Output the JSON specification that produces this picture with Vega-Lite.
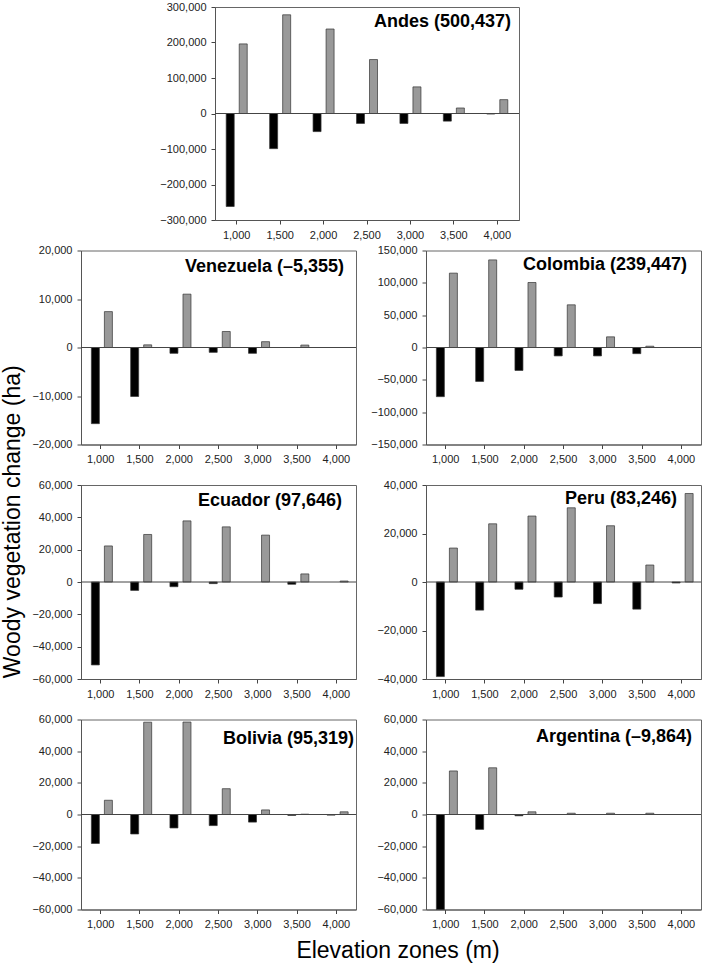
{
  "$schema": "https://vega.github.io/schema/vega-lite/v6.json",
  "padding": {"left": 2, "top": 0, "right": 0, "bottom": 0},
  "autosize": {"type": "pad"},
  "title": {"text": "Woody vegetation change (ha)", "orient": "left", "anchor": "middle", "offset": -12, "dx": -40, "baseline": "alphabetic", "fontSize": 23, "fontWeight": "normal", "color": "#000"},
  "config": {
    "font": "Liberation Sans",
    "view": {"stroke": "#666", "strokeWidth": 1},
    "axis": {"labelFontSize": 11, "labelColor": "#222", "tickColor": "#444", "domainColor": "#555", "tickSize": 4, "grid": false, "labelPadding": 5, "labelOverlap": false},
    "axisX": {"labelAngle": 0, "labelPadding": 5},
    "title": {"font": "Liberation Sans"}
  },
  "datasets": {
    "woody": [
      {"region": "Andes", "zone": "1,000", "type": "loss", "value": -262000},
      {"region": "Andes", "zone": "1,000", "type": "gain", "value": 196000},
      {"region": "Andes", "zone": "1,500", "type": "loss", "value": -99000},
      {"region": "Andes", "zone": "1,500", "type": "gain", "value": 278000},
      {"region": "Andes", "zone": "2,000", "type": "loss", "value": -51000},
      {"region": "Andes", "zone": "2,000", "type": "gain", "value": 238000},
      {"region": "Andes", "zone": "2,500", "type": "loss", "value": -28000},
      {"region": "Andes", "zone": "2,500", "type": "gain", "value": 152000},
      {"region": "Andes", "zone": "3,000", "type": "loss", "value": -28000},
      {"region": "Andes", "zone": "3,000", "type": "gain", "value": 75000},
      {"region": "Andes", "zone": "3,500", "type": "loss", "value": -21500},
      {"region": "Andes", "zone": "3,500", "type": "gain", "value": 15500},
      {"region": "Andes", "zone": "4,000", "type": "loss", "value": -1500},
      {"region": "Andes", "zone": "4,000", "type": "gain", "value": 39000},
      {"region": "Venezuela", "zone": "1,000", "type": "loss", "value": -15700},
      {"region": "Venezuela", "zone": "1,000", "type": "gain", "value": 7400},
      {"region": "Venezuela", "zone": "1,500", "type": "loss", "value": -10100},
      {"region": "Venezuela", "zone": "1,500", "type": "gain", "value": 550},
      {"region": "Venezuela", "zone": "2,000", "type": "loss", "value": -1200},
      {"region": "Venezuela", "zone": "2,000", "type": "gain", "value": 11000},
      {"region": "Venezuela", "zone": "2,500", "type": "loss", "value": -1000},
      {"region": "Venezuela", "zone": "2,500", "type": "gain", "value": 3300},
      {"region": "Venezuela", "zone": "3,000", "type": "loss", "value": -1200},
      {"region": "Venezuela", "zone": "3,000", "type": "gain", "value": 1200},
      {"region": "Venezuela", "zone": "3,500", "type": "gain", "value": 500},
      {"region": "Colombia", "zone": "1,000", "type": "loss", "value": -76000},
      {"region": "Colombia", "zone": "1,000", "type": "gain", "value": 115000},
      {"region": "Colombia", "zone": "1,500", "type": "loss", "value": -52500},
      {"region": "Colombia", "zone": "1,500", "type": "gain", "value": 135500},
      {"region": "Colombia", "zone": "2,000", "type": "loss", "value": -35500},
      {"region": "Colombia", "zone": "2,000", "type": "gain", "value": 100500},
      {"region": "Colombia", "zone": "2,500", "type": "loss", "value": -13000},
      {"region": "Colombia", "zone": "2,500", "type": "gain", "value": 66000},
      {"region": "Colombia", "zone": "3,000", "type": "loss", "value": -13000},
      {"region": "Colombia", "zone": "3,000", "type": "gain", "value": 16500},
      {"region": "Colombia", "zone": "3,500", "type": "loss", "value": -9500},
      {"region": "Colombia", "zone": "3,500", "type": "gain", "value": 2000},
      {"region": "Ecuador", "zone": "1,000", "type": "loss", "value": -51300},
      {"region": "Ecuador", "zone": "1,000", "type": "gain", "value": 22300},
      {"region": "Ecuador", "zone": "1,500", "type": "loss", "value": -5200},
      {"region": "Ecuador", "zone": "1,500", "type": "gain", "value": 29400},
      {"region": "Ecuador", "zone": "2,000", "type": "loss", "value": -2900},
      {"region": "Ecuador", "zone": "2,000", "type": "gain", "value": 37800},
      {"region": "Ecuador", "zone": "2,500", "type": "loss", "value": -1000},
      {"region": "Ecuador", "zone": "2,500", "type": "gain", "value": 34100},
      {"region": "Ecuador", "zone": "3,000", "type": "gain", "value": 29000},
      {"region": "Ecuador", "zone": "3,500", "type": "loss", "value": -1400},
      {"region": "Ecuador", "zone": "3,500", "type": "gain", "value": 5000},
      {"region": "Ecuador", "zone": "4,000", "type": "gain", "value": 600},
      {"region": "Peru", "zone": "1,000", "type": "loss", "value": -39000},
      {"region": "Peru", "zone": "1,000", "type": "gain", "value": 14000},
      {"region": "Peru", "zone": "1,500", "type": "loss", "value": -11600},
      {"region": "Peru", "zone": "1,500", "type": "gain", "value": 24000},
      {"region": "Peru", "zone": "2,000", "type": "loss", "value": -3000},
      {"region": "Peru", "zone": "2,000", "type": "gain", "value": 27200},
      {"region": "Peru", "zone": "2,500", "type": "loss", "value": -6200},
      {"region": "Peru", "zone": "2,500", "type": "gain", "value": 30600},
      {"region": "Peru", "zone": "3,000", "type": "loss", "value": -8900},
      {"region": "Peru", "zone": "3,000", "type": "gain", "value": 23200},
      {"region": "Peru", "zone": "3,500", "type": "loss", "value": -11200},
      {"region": "Peru", "zone": "3,500", "type": "gain", "value": 7000},
      {"region": "Peru", "zone": "4,000", "type": "loss", "value": -400},
      {"region": "Peru", "zone": "4,000", "type": "gain", "value": 36500},
      {"region": "Bolivia", "zone": "1,000", "type": "loss", "value": -18300},
      {"region": "Bolivia", "zone": "1,000", "type": "gain", "value": 9000},
      {"region": "Bolivia", "zone": "1,500", "type": "loss", "value": -12300},
      {"region": "Bolivia", "zone": "1,500", "type": "gain", "value": 58300},
      {"region": "Bolivia", "zone": "2,000", "type": "loss", "value": -8500},
      {"region": "Bolivia", "zone": "2,000", "type": "gain", "value": 58400},
      {"region": "Bolivia", "zone": "2,500", "type": "loss", "value": -7000},
      {"region": "Bolivia", "zone": "2,500", "type": "gain", "value": 16300},
      {"region": "Bolivia", "zone": "3,000", "type": "loss", "value": -4800},
      {"region": "Bolivia", "zone": "3,000", "type": "gain", "value": 2900},
      {"region": "Bolivia", "zone": "3,500", "type": "loss", "value": -600},
      {"region": "Bolivia", "zone": "3,500", "type": "gain", "value": 200},
      {"region": "Bolivia", "zone": "4,000", "type": "loss", "value": -400},
      {"region": "Bolivia", "zone": "4,000", "type": "gain", "value": 1700},
      {"region": "Argentina", "zone": "1,000", "type": "loss", "value": -60000},
      {"region": "Argentina", "zone": "1,000", "type": "gain", "value": 27500},
      {"region": "Argentina", "zone": "1,500", "type": "loss", "value": -9400},
      {"region": "Argentina", "zone": "1,500", "type": "gain", "value": 29500},
      {"region": "Argentina", "zone": "2,000", "type": "loss", "value": -800},
      {"region": "Argentina", "zone": "2,000", "type": "gain", "value": 1700},
      {"region": "Argentina", "zone": "2,500", "type": "gain", "value": 800},
      {"region": "Argentina", "zone": "3,000", "type": "gain", "value": 800},
      {"region": "Argentina", "zone": "3,500", "type": "gain", "value": 800}
    ]
  },
  "spacing": 2.5,
  "vconcat": [
    {
      "spacing": 0,
      "bounds": "flush",
      "hconcat": [
        {"width": 134, "height": 213, "view": {"stroke": null}, "data": {"values": []}, "mark": {"type": "point", "opacity": 0}, "encoding": {}},
        {
          "width": 304, "height": 213,
          "title": {"text": "Andes (500,437)", "anchor": "end", "frame": "group", "offset": -44, "dx": -8, "baseline": "alphabetic", "fontSize": 18, "fontWeight": "bold", "color": "#000"},
          "layer": [
            {
              "data": {"name": "woody"},
              "transform": [{"filter": "datum.region === 'Andes'"}],
              "mark": {"type": "bar", "width": 8, "stroke": "#333", "strokeWidth": 0.7},
              "encoding": {
                "x": {"field": "zone", "type": "ordinal", "scale": {"domain": ["1,000", "1,500", "2,000", "2,500", "3,000", "3,500", "4,000"], "paddingInner": 0.4, "paddingOuter": 0.2}, "axis": {"title": null, "labelOverlap": false}},
                "xOffset": {"field": "type", "scale": {"domain": ["loss", "gain"], "paddingInner": 0, "paddingOuter": 0}},
                "y": {"field": "value", "type": "quantitative", "scale": {"domain": [-300000, 300000], "nice": false, "zero": false}, "axis": {"values": [-300000, -200000, -100000, 0, 100000, 200000, 300000], "tickCount": 20, "format": ",.0f", "title": null, "labelOverlap": false}},
                "color": {"field": "type", "scale": {"domain": ["loss", "gain"], "range": ["#000000", "#999999"]}, "legend": null}
              }
            },
            {"data": {"values": [{"zero": 0}]}, "mark": {"type": "rule", "color": "#444", "strokeWidth": 1}, "encoding": {"y": {"field": "zero", "type": "quantitative"}}}
          ]
        }
      ]
    },
    {
      "spacing": 12.5,
      "vconcat": [
        {
          "spacing": 70,
          "bounds": "flush",
          "hconcat": [
            {
              "width": 275, "height": 194,
              "title": {"text": "Venezuela (–5,355)", "anchor": "end", "frame": "group", "offset": -45, "dx": -12, "baseline": "alphabetic", "fontSize": 18, "fontWeight": "bold", "color": "#000"},
              "layer": [
                {
                  "data": {"name": "woody"},
                  "transform": [{"filter": "datum.region === 'Venezuela'"}],
                  "mark": {"type": "bar", "width": 8, "stroke": "#333", "strokeWidth": 0.7},
                  "encoding": {
                    "x": {"field": "zone", "type": "ordinal", "scale": {"domain": ["1,000", "1,500", "2,000", "2,500", "3,000", "3,500", "4,000"], "paddingInner": 0.4, "paddingOuter": 0.2}, "axis": {"title": null, "labelOverlap": false}},
                    "xOffset": {"field": "type", "scale": {"domain": ["loss", "gain"], "paddingInner": 0, "paddingOuter": 0}},
                    "y": {"field": "value", "type": "quantitative", "scale": {"domain": [-20000, 20000], "nice": false, "zero": false}, "axis": {"values": [-20000, -10000, 0, 10000, 20000], "tickCount": 20, "format": ",.0f", "title": null, "labelOverlap": false}},
                    "color": {"field": "type", "scale": {"domain": ["loss", "gain"], "range": ["#000000", "#999999"]}, "legend": null}
                  }
                },
                {"data": {"values": [{"zero": 0}]}, "mark": {"type": "rule", "color": "#444", "strokeWidth": 1}, "encoding": {"y": {"field": "zero", "type": "quantitative"}}}
              ]
            },
            {
              "width": 275, "height": 194,
              "title": {"text": "Colombia (239,447)", "anchor": "end", "frame": "group", "offset": -43, "dx": -14, "baseline": "alphabetic", "fontSize": 18, "fontWeight": "bold", "color": "#000"},
              "layer": [
                {
                  "data": {"name": "woody"},
                  "transform": [{"filter": "datum.region === 'Colombia'"}],
                  "mark": {"type": "bar", "width": 8, "stroke": "#333", "strokeWidth": 0.7},
                  "encoding": {
                    "x": {"field": "zone", "type": "ordinal", "scale": {"domain": ["1,000", "1,500", "2,000", "2,500", "3,000", "3,500", "4,000"], "paddingInner": 0.4, "paddingOuter": 0.2}, "axis": {"title": null, "labelOverlap": false}},
                    "xOffset": {"field": "type", "scale": {"domain": ["loss", "gain"], "paddingInner": 0, "paddingOuter": 0}},
                    "y": {"field": "value", "type": "quantitative", "scale": {"domain": [-150000, 150000], "nice": false, "zero": false}, "axis": {"values": [-150000, -100000, -50000, 0, 50000, 100000, 150000], "tickCount": 20, "format": ",.0f", "title": null, "labelOverlap": false}},
                    "color": {"field": "type", "scale": {"domain": ["loss", "gain"], "range": ["#000000", "#999999"]}, "legend": null}
                  }
                },
                {"data": {"values": [{"zero": 0}]}, "mark": {"type": "rule", "color": "#444", "strokeWidth": 1}, "encoding": {"y": {"field": "zero", "type": "quantitative"}}}
              ]
            }
          ]
        },
        {
          "spacing": 70,
          "bounds": "flush",
          "hconcat": [
            {
              "width": 275, "height": 194,
              "title": {"text": "Ecuador (97,646)", "anchor": "end", "frame": "group", "offset": -45, "dx": -14, "baseline": "alphabetic", "fontSize": 18, "fontWeight": "bold", "color": "#000"},
              "layer": [
                {
                  "data": {"name": "woody"},
                  "transform": [{"filter": "datum.region === 'Ecuador'"}],
                  "mark": {"type": "bar", "width": 8, "stroke": "#333", "strokeWidth": 0.7},
                  "encoding": {
                    "x": {"field": "zone", "type": "ordinal", "scale": {"domain": ["1,000", "1,500", "2,000", "2,500", "3,000", "3,500", "4,000"], "paddingInner": 0.4, "paddingOuter": 0.2}, "axis": {"title": null, "labelOverlap": false}},
                    "xOffset": {"field": "type", "scale": {"domain": ["loss", "gain"], "paddingInner": 0, "paddingOuter": 0}},
                    "y": {"field": "value", "type": "quantitative", "scale": {"domain": [-60000, 60000], "nice": false, "zero": false}, "axis": {"values": [-60000, -40000, -20000, 0, 20000, 40000, 60000], "tickCount": 20, "format": ",.0f", "title": null, "labelOverlap": false}},
                    "color": {"field": "type", "scale": {"domain": ["loss", "gain"], "range": ["#000000", "#999999"]}, "legend": null}
                  }
                },
                {"data": {"values": [{"zero": 0}]}, "mark": {"type": "rule", "color": "#444", "strokeWidth": 1}, "encoding": {"y": {"field": "zero", "type": "quantitative"}}}
              ]
            },
            {
              "width": 275, "height": 194,
              "title": {"text": "Peru (83,246)", "anchor": "end", "frame": "group", "offset": -43, "dx": -24, "baseline": "alphabetic", "fontSize": 18, "fontWeight": "bold", "color": "#000"},
              "layer": [
                {
                  "data": {"name": "woody"},
                  "transform": [{"filter": "datum.region === 'Peru'"}],
                  "mark": {"type": "bar", "width": 8, "stroke": "#333", "strokeWidth": 0.7},
                  "encoding": {
                    "x": {"field": "zone", "type": "ordinal", "scale": {"domain": ["1,000", "1,500", "2,000", "2,500", "3,000", "3,500", "4,000"], "paddingInner": 0.4, "paddingOuter": 0.2}, "axis": {"title": null, "labelOverlap": false}},
                    "xOffset": {"field": "type", "scale": {"domain": ["loss", "gain"], "paddingInner": 0, "paddingOuter": 0}},
                    "y": {"field": "value", "type": "quantitative", "scale": {"domain": [-40000, 40000], "nice": false, "zero": false}, "axis": {"values": [-40000, -20000, 0, 20000, 40000], "tickCount": 20, "format": ",.0f", "title": null, "labelOverlap": false}},
                    "color": {"field": "type", "scale": {"domain": ["loss", "gain"], "range": ["#000000", "#999999"]}, "legend": null}
                  }
                },
                {"data": {"values": [{"zero": 0}]}, "mark": {"type": "rule", "color": "#444", "strokeWidth": 1}, "encoding": {"y": {"field": "zero", "type": "quantitative"}}}
              ]
            }
          ]
        },
        {
          "spacing": 70,
          "bounds": "flush",
          "hconcat": [
            {
              "width": 275, "height": 190,
              "title": {"text": "Bolivia (95,319)", "anchor": "end", "frame": "group", "offset": -48, "dx": -2, "baseline": "alphabetic", "fontSize": 18, "fontWeight": "bold", "color": "#000"},
              "layer": [
                {
                  "data": {"name": "woody"},
                  "transform": [{"filter": "datum.region === 'Bolivia'"}],
                  "mark": {"type": "bar", "width": 8, "stroke": "#333", "strokeWidth": 0.7},
                  "encoding": {
                    "x": {"field": "zone", "type": "ordinal", "scale": {"domain": ["1,000", "1,500", "2,000", "2,500", "3,000", "3,500", "4,000"], "paddingInner": 0.4, "paddingOuter": 0.2}, "axis": {"title": "Elevation zones (m)", "labelOverlap": false, "titleFontSize": 23, "titleFontWeight": "normal", "titleColor": "#000", "titleX": 316.5, "titleY": 48, "titleAlign": "center", "titleBaseline": "alphabetic"}},
                    "xOffset": {"field": "type", "scale": {"domain": ["loss", "gain"], "paddingInner": 0, "paddingOuter": 0}},
                    "y": {"field": "value", "type": "quantitative", "scale": {"domain": [-60000, 60000], "nice": false, "zero": false}, "axis": {"values": [-60000, -40000, -20000, 0, 20000, 40000, 60000], "tickCount": 20, "format": ",.0f", "title": null, "labelOverlap": false}},
                    "color": {"field": "type", "scale": {"domain": ["loss", "gain"], "range": ["#000000", "#999999"]}, "legend": null}
                  }
                },
                {"data": {"values": [{"zero": 0}]}, "mark": {"type": "rule", "color": "#444", "strokeWidth": 1}, "encoding": {"y": {"field": "zero", "type": "quantitative"}}}
              ]
            },
            {
              "width": 275, "height": 190,
              "title": {"text": "Argentina (–9,864)", "anchor": "end", "frame": "group", "offset": -46.5, "dx": -9, "baseline": "alphabetic", "fontSize": 18, "fontWeight": "bold", "color": "#000"},
              "layer": [
                {
                  "data": {"name": "woody"},
                  "transform": [{"filter": "datum.region === 'Argentina'"}],
                  "mark": {"type": "bar", "width": 8, "stroke": "#333", "strokeWidth": 0.7},
                  "encoding": {
                    "x": {"field": "zone", "type": "ordinal", "scale": {"domain": ["1,000", "1,500", "2,000", "2,500", "3,000", "3,500", "4,000"], "paddingInner": 0.4, "paddingOuter": 0.2}, "axis": {"title": null, "labelOverlap": false}},
                    "xOffset": {"field": "type", "scale": {"domain": ["loss", "gain"], "paddingInner": 0, "paddingOuter": 0}},
                    "y": {"field": "value", "type": "quantitative", "scale": {"domain": [-60000, 60000], "nice": false, "zero": false}, "axis": {"values": [-60000, -40000, -20000, 0, 20000, 40000, 60000], "tickCount": 20, "format": ",.0f", "title": null, "labelOverlap": false}},
                    "color": {"field": "type", "scale": {"domain": ["loss", "gain"], "range": ["#000000", "#999999"]}, "legend": null}
                  }
                },
                {"data": {"values": [{"zero": 0}]}, "mark": {"type": "rule", "color": "#444", "strokeWidth": 1}, "encoding": {"y": {"field": "zero", "type": "quantitative"}}}
              ]
            }
          ]
        }
      ]
    }
  ]
}
